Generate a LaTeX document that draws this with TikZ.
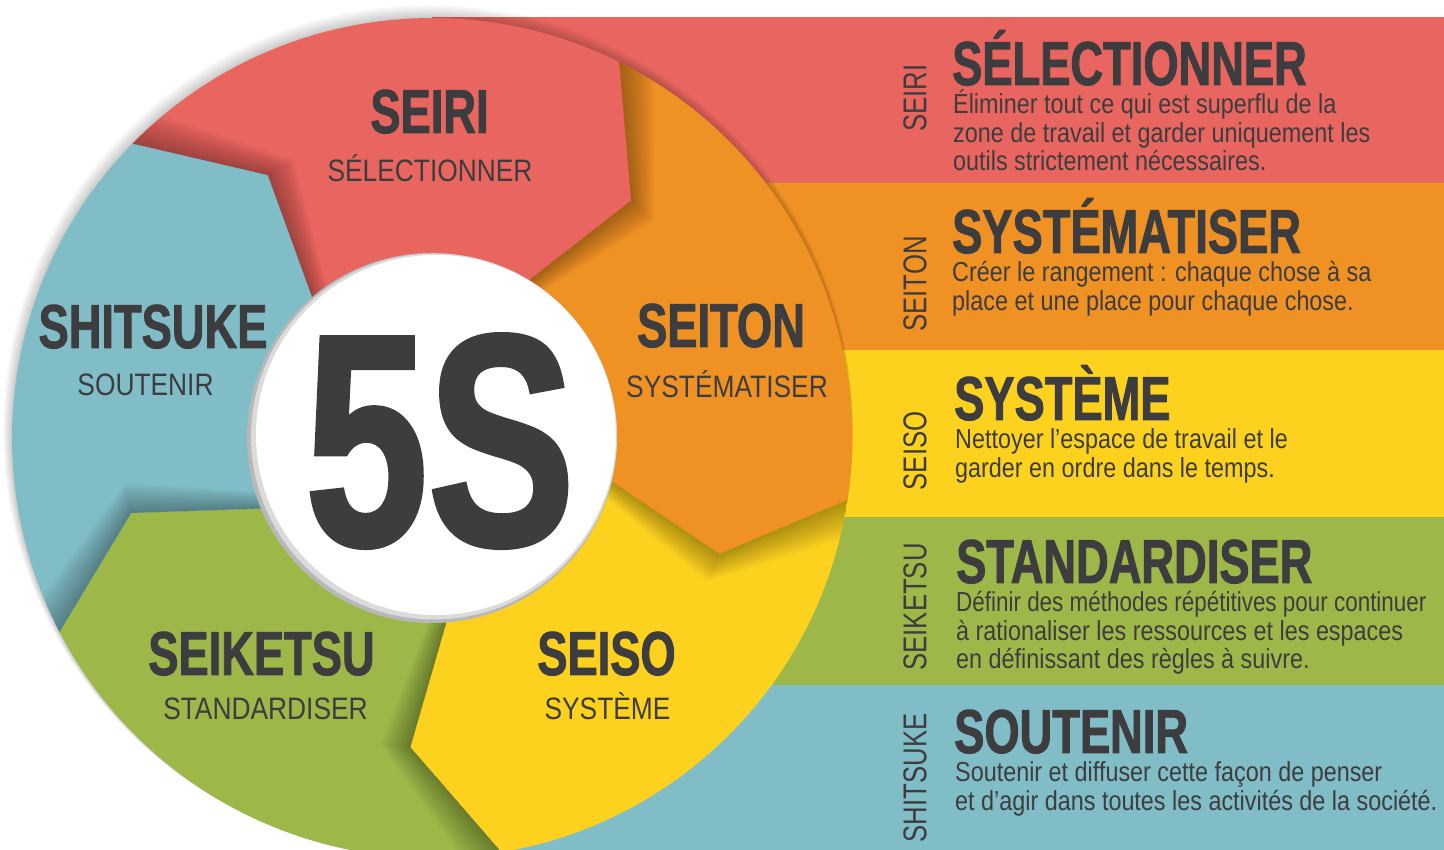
\documentclass[tikz,border=0pt]{standalone}
\usepackage{fontspec}
\setmainfont{Liberation Sans}
\newfontfamily\titlefont[FakeStretch=0.73,FakeBold=1.4]{Liberation Sans Bold}
\newfontfamily\lightfont[FakeStretch=0.85]{Liberation Sans}
\newfontfamily\vertfont[FakeStretch=0.78]{Liberation Sans}
\usetikzlibrary{calc}
\definecolor{cred}{HTML}{E9655F}
\definecolor{corange}{HTML}{F09124}
\definecolor{cyellow}{HTML}{FDD21F}
\definecolor{cgreen}{HTML}{9DB849}
\definecolor{cblue}{HTML}{81BDC6}
\definecolor{ink}{HTML}{3D3D3F}
\newcommand{\petal}[1]{($(C)+(#1:420pt)$) arc[start angle=#1, end angle=#1-72, radius=420pt] -- ($(C)+(#1-85.5:310pt)$) -- ($(C)+(#1-72:150pt)$) -- (C) -- ($(C)+(#1:150pt)$) -- ($(C)+(#1-13.5:310pt)$) -- cycle}
\newcommand{\petalshadow}[1]{%
  \begin{scope}
    \clip \petal{#1-72};
    \foreach \r in {1,...,14} {
      \fill[black, opacity=0.022, rotate around={-0.4*\r:(C)}] \petal{#1};
    }
  \end{scope}}
\tikzset{
  bigtitle/.style={font=\titlefont\fontsize{62}{62}\selectfont, text=ink, inner sep=0pt},
  subtitle/.style={font=\lightfont\fontsize{31}{31}\selectfont, text=ink, inner sep=0pt},
  bodyline/.style={font=\lightfont\fontsize{27.5}{29}\selectfont, text=ink, inner sep=0pt, anchor=base west},
  vertlabel/.style={font=\vertfont\fontsize{33}{33}\selectfont, text=ink, inner sep=0pt, rotate=90, anchor=center},
  bandtitle/.style={bigtitle, anchor=base west},
  circtitle/.style={bigtitle, anchor=base},
  circsub/.style={subtitle, anchor=base}
}
\begin{document}
\begin{tikzpicture}[x=1pt,y=1pt]
\useasboundingbox (0,0) rectangle (1444,850);
\fill[white] (0,0) rectangle (1444,850);
\coordinate (C) at (432,412);
% bands
\fill[cred] (432,667) rectangle (1444,833);
\fill[corange] (432,500) rectangle (1444,667);
\fill[cyellow] (432,333) rectangle (1444,500);
\fill[cgreen] (432,165) rectangle (1444,333);
\fill[cblue] (432,0) rectangle (1444,165);
% big circle shadow
\foreach \i in {1,...,10} {
  \fill[black, opacity=0.02] ($(C)+(-0.4*\i,0.8*\i)$) circle[radius=420pt+0.5pt*\i];
}
% petals
\fill[cred] \petal{135.5};
\fill[corange] \petal{63.5};
\fill[cyellow] \petal{-8.5};
\fill[cgreen] \petal{-80.5};
\fill[cblue] \petal{-152.5};
\petalshadow{135.5}
\petalshadow{63.5}
\petalshadow{-8.5}
\petalshadow{-80.5}
\petalshadow{-152.5}
% white centre
\fill[black!28] (C) circle[radius=185pt];
\fill[black!14] ($(C)+(2,1.5)$) circle[radius=183pt];
\fill[white] ($(C)+(4,3)$) circle[radius=180pt];
% 5S
\node[font=\titlefont\fontsize{302}{302}\selectfont, text=ink, inner sep=0pt, anchor=base] (five) at (440,305) {5S};
% circle labels
\node[circtitle] (t1) at (429.5,717) {SEIRI};
\node[circsub] (s1) at (430,668) {SÉLECTIONNER};
\node[circtitle] (t2) at (721,503) {SEITON};
\node[circsub] (s2) at (727,452) {SYSTÉMATISER};
\node[circtitle] (t5) at (153,502) {SHITSUKE};
\node[circsub] (s5) at (145.5,454) {SOUTENIR};
\node[circtitle] (t4) at (261.5,175) {SEIKETSU};
\node[circsub] (s4) at (265.5,130) {STANDARDISER};
\node[circtitle] (t3) at (606.5,175) {SEISO};
\node[circsub] (s3) at (607.5,130) {SYSTÈME};
% band 1
\node[vertlabel] (v1) at (915,752) {SEIRI};
\node[bandtitle] (h1) at (952,765) {SÉLECTIONNER};
\node[bodyline] (b1a) at (953,736) {Éliminer tout ce qui est superflu de la};
\node[bodyline] (b1b) at (953,707.5) {zone de travail et garder uniquement les};
\node[bodyline] (b1c) at (953,679) {outils strictement nécessaires.};
% band 2
\node[vertlabel] (v2) at (915,566) {SEITON};
\node[bandtitle] (h2) at (952,597) {SYSTÉMATISER};
\node[bodyline] (b2a) at (952,568) {Créer le rangement : chaque chose à sa};
\node[bodyline] (b2b) at (952,539.5) {place et une place pour chaque chose.};
% band 3
\node[vertlabel] (v3) at (915,399) {SEISO};
\node[bandtitle] (h3) at (954,430) {SYSTÈME};
\node[bodyline] (b3a) at (955,401) {Nettoyer l’espace de travail et le};
\node[bodyline] (b3b) at (955,372.5) {garder en ordre dans le temps.};
% band 4
\node[vertlabel] (v4) at (915,243) {SEIKETSU};
\node[bandtitle] (h4) at (956,267) {STANDARDISER};
\node[bodyline] (b4a) at (956,238) {\scalebox{0.96}[1]{Définir des méthodes répétitives pour continuer}};
\node[bodyline] (b4b) at (956,209.5) {à rationaliser les ressources et les espaces};
\node[bodyline] (b4c) at (956,181) {en définissant des règles à suivre.};
% band 5
\node[vertlabel] (v5) at (915,72) {SHITSUKE};
\node[bandtitle] (h5) at (954,97) {SOUTENIR};
\node[bodyline] (b5a) at (955,68) {Soutenir et diffuser cette façon de penser};
\node[bodyline] (b5b) at (955,39.5) {et d’agir dans toutes les activités de la société.};
\end{tikzpicture}
\end{document}
